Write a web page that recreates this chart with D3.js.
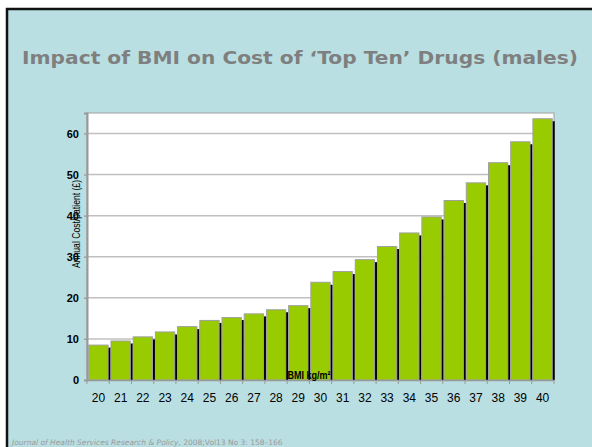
<!DOCTYPE html>
<html>
<head>
<meta charset="utf-8">
<script src="https://cdn.jsdelivr.net/npm/d3@7"></script>
<style>
  body { margin: 0; background: #fff; }
  svg { display: block; }
</style>
</head>
<body>
<div id="chart"></div>
<script>
// BMI categories and annual cost per patient (£)
var bmi = [20, 21, 22, 23, 24, 25, 26, 27, 28, 29, 30, 31, 32, 33, 34, 35, 36, 37, 38, 39, 40];
var cost = [8.5, 9.5, 10.5, 11.7, 13.0, 14.5, 15.2, 16.1, 17.1, 18.1, 23.8, 26.4, 29.3, 32.5, 35.8, 39.7, 43.7, 48.0, 52.9, 58.0, 63.6];
var yTicks = [0, 10, 20, 30, 40, 50, 60];

var W = 592, H = 447;
var margin = {top: 113, right: 38, bottom: 67, left: 87};
var width = W - margin.left - margin.right,
    height = H - margin.top - margin.bottom;

var svg = d3.select("#chart").append("svg")
    .attr("width", W)
    .attr("height", H);

// slide background + dark frame
svg.append("rect")
    .attr("x", 7).attr("y", 9)
    .attr("width", W + 10).attr("height", H + 10)
    .attr("fill", "#b9dfe3")
    .attr("stroke", "#111")
    .attr("stroke-width", 2.5);

svg.append("text")
    .attr("x", 22).attr("y", 64)
    .attr("font-family", "DejaVu Sans, Verdana, sans-serif")
    .attr("font-weight", "bold")
    .attr("font-size", 18.5)
    .attr("textLength", 556)
    .attr("lengthAdjust", "spacingAndGlyphs")
    .attr("fill", "#7f7f7f")
    .text("Impact of BMI on Cost of \u2018Top Ten\u2019 Drugs (males)");

var g = svg.append("g")
    .attr("transform", "translate(" + margin.left + "," + margin.top + ")");

var x = d3.scaleBand()
    .domain(bmi)
    .range([0, width])
    .paddingInner(0.13)
    .paddingOuter(0.08);

var y = d3.scaleLinear()
    .domain([0, 65])
    .range([height, 0]);

// plot area
g.append("rect")
    .attr("width", width).attr("height", height)
    .attr("fill", "#fff")
    .attr("stroke", "#a0a0a0")
    .attr("stroke-width", 1);

// gridlines
g.selectAll(".grid")
  .data(yTicks.slice(1))
  .enter().append("line")
    .attr("x1", -3).attr("x2", width)
    .attr("y1", function(d) { return y(d); })
    .attr("y2", function(d) { return y(d); })
    .attr("stroke", "#c0c0c0")
    .attr("stroke-width", 1.5);

// shadows then bars
g.selectAll(".shadow")
  .data(cost)
  .enter().append("rect")
    .attr("x", function(d, i) { return x(bmi[i]) + 2.5; })
    .attr("y", function(d) { return y(d) + 2.5; })
    .attr("width", x.bandwidth())
    .attr("height", function(d) { return height - y(d) - 2.5; })
    .attr("fill", "#000");

g.selectAll(".bar")
  .data(cost)
  .enter().append("rect")
    .attr("x", function(d, i) { return x(bmi[i]); })
    .attr("y", function(d) { return y(d); })
    .attr("width", x.bandwidth())
    .attr("height", function(d) { return height - y(d); })
    .attr("fill", "#99cc00")
    .attr("stroke", "#a0a0a0")
    .attr("stroke-width", 1);

// y axis
var yAxis = g.append("g")
    .call(d3.axisLeft(y).tickValues(yTicks).tickSize(3).tickPadding(5));
yAxis.select(".domain").attr("stroke", "#999").attr("stroke-width", 2);
yAxis.selectAll(".tick line").attr("stroke", "#999");
yAxis.selectAll("text")
    .attr("font-family", "Liberation Sans, Arial, sans-serif")
    .attr("font-weight", "bold")
    .attr("font-size", 11)
    .attr("fill", "#000");

// x axis: ticks sit between bars
var xAxis = g.append("g")
    .attr("transform", "translate(0," + height + ")")
    .call(d3.axisBottom(x).tickSize(0).tickPadding(13));
xAxis.select(".domain").attr("stroke", "#999").attr("stroke-width", 1.5);
xAxis.selectAll("text")
    .attr("font-family", "Liberation Sans, Arial, sans-serif")
    .attr("font-size", 12)
    .attr("fill", "#000");
var step = width / bmi.length;
xAxis.selectAll(".sep")
  .data(d3.range(bmi.length + 1))
  .enter().append("line")
    .attr("x1", function(d) { return d * step; })
    .attr("x2", function(d) { return d * step; })
    .attr("y1", 0).attr("y2", 4)
    .attr("stroke", "#999");

// axis titles (they overlap the plot on the original slide)
svg.append("text")
    .attr("transform", "translate(80,224) rotate(-90)")
    .attr("text-anchor", "middle")
    .attr("font-family", "Liberation Sans, Arial, sans-serif")
    .attr("font-size", 10)
    .attr("textLength", 88)
    .attr("lengthAdjust", "spacingAndGlyphs")
    .attr("fill", "#000")
    .text("Annual Cost/patient (\u00a3)");

svg.append("text")
    .attr("x", 309).attr("y", 379)
    .attr("text-anchor", "middle")
    .attr("font-family", "Liberation Sans, Arial, sans-serif")
    .attr("font-weight", "bold")
    .attr("font-size", 11)
    .attr("textLength", 43)
    .attr("lengthAdjust", "spacingAndGlyphs")
    .attr("fill", "#000")
    .text("BMI kg/m\u00b2");

// source line
var src = svg.append("text")
    .attr("x", 12).attr("y", 445)
    .attr("font-family", "DejaVu Sans, Verdana, sans-serif")
    .attr("font-size", 7.5)
    .attr("fill", "#9a9a9a");
src.append("tspan").attr("font-style", "italic").text("Journal of Health Services Research & Policy");
src.append("tspan").text(", 2008;Vol13 No 3: 158\u2013166");
</script>
</body>
</html>
